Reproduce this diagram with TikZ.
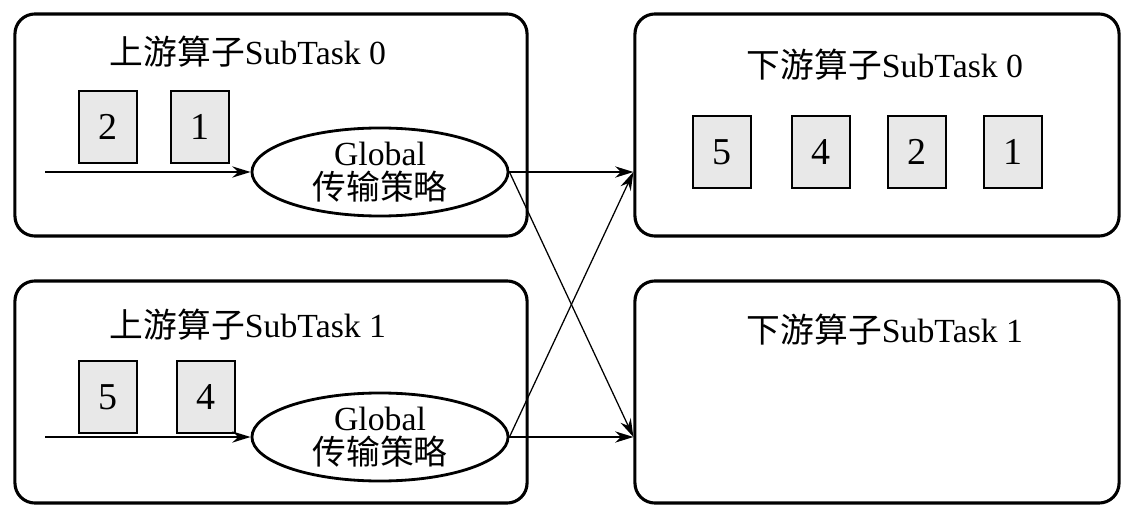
\documentclass[tikz,border=0pt]{standalone}
\usepackage{fontspec}
\setmainfont{Liberation Serif}
\newfontfamily\cjk{Noto Sans CJK SC}
\usetikzlibrary{arrows.meta,shapes.geometric}
\tikzstyle{taskbox}=[draw, line width=2.2pt, rounded corners=0.5cm, minimum width=12.8cm, minimum height=5.55cm, inner sep=0pt]
\tikzstyle{outbox}=[taskbox, minimum width=12.1cm]
\tikzstyle{record}=[draw, line width=1.7pt, fill=gray!18, minimum width=1.45cm, minimum height=1.8cm, inner sep=0pt, font=\fontsize{27}{30}\selectfont]
\tikzstyle{strategy}=[draw, ellipse, line width=2pt, minimum width=6.4cm, minimum height=2.2cm, inner sep=0pt, align=center]
\tikzstyle{flow}=[draw, line width=0.9pt, -{Stealth[length=13pt,width=8pt]}]

\begin{document}
\begin{tikzpicture}[x=0.025cm, y=-0.025cm, font=\fontsize{24}{27}\selectfont]
  \useasboundingbox (0,0) rectangle (1135,524);

  % upstream subtasks
  \node (u0) [taskbox] at (271,125) {};
  \node (u1) [taskbox] at (271,392) {};
  \node (t0) at (248,52) {{\cjk 上游算子}SubTask 0};
  \node (t1) at (248,325) {{\cjk 上游算子}SubTask 1};
  \node (r2) [record] at (108,127) {2};
  \node (r1) [record] at (200,127) {1};
  \node (r5) [record] at (108,397) {5};
  \node (r4) [record] at (206,397) {4};
  \node (g0) [strategy] at (380,172) {Global\\[-3pt]{\cjk 传输策略}};
  \node (g1) [strategy] at (380,437) {Global\\[-3pt]{\cjk 传输策略}};

  % downstream subtasks
  \node (d0) [outbox] at (877,125) {};
  \node (d1) [outbox] at (877,392) {};
  \node (v0) at (885,65) {{\cjk 下游算子}SubTask 0};
  \node (v1) at (885,330) {{\cjk 下游算子}SubTask 1};
  \node (q5) [record] at (722,152) {5};
  \node (q4) [record] at (821,152) {4};
  \node (q2) [record] at (917,152) {2};
  \node (q1) [record] at (1013,152) {1};

  % connections
  \coordinate (s0) at (45,172);
  \coordinate (s1) at (45,437);
  \draw [flow] (s0) -- (g0);
  \draw [flow] (s1) -- (g1);
  \draw [flow] (g0.east) -- (d0.west |- g0.east);
  \draw [flow] (g0.east) -- (d1.west |- g1.east);
  \draw [flow] (g1.east) -- (d1.west |- g1.east);
  \draw [flow] (g1.east) -- (d0.west |- g0.east);
\end{tikzpicture}
\end{document}
